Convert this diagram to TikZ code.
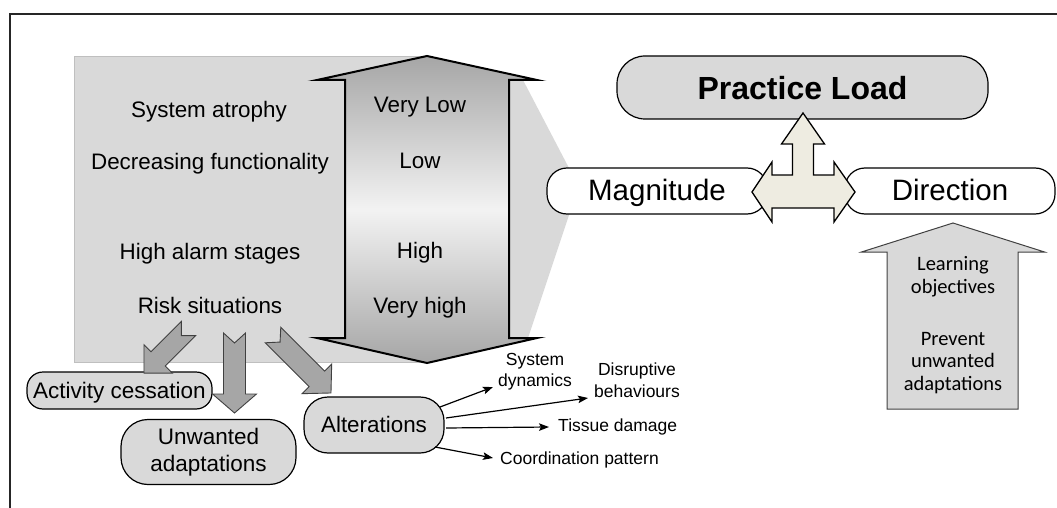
\documentclass[tikz,border=0pt]{standalone}
\usepackage{fontspec}
\setmainfont{Liberation Sans}
\newfontfamily\calibri{Carlito}
\usetikzlibrary{arrows.meta,calc}
\definecolor{lg}{HTML}{D9D9D9}
\definecolor{ag}{HTML}{A6A6A6}
\definecolor{beige}{HTML}{EEECE1}
\definecolor{edgec}{HTML}{404040}
\definecolor{frameg}{HTML}{BFBFBF}
\newcommand\fsz[1]{\fontsize{#1}{#1}\selectfont}
% #1 tail centre, #2 angle, #3 length, #4 shaft half width, #5 head half width, #6 head length
\newcommand\notchedarrow[6]{%
  \begin{scope}[shift={#1},rotate=#2]
    \path[garrow] (0,#4) -- ({#3-#6},#4) -- ({#3-#6},#5) -- (#3,0) -- ({#3-#6},-#5)
      -- ({#3-#6},-#4) -- (0,-#4) -- (10,0) -- cycle;
  \end{scope}}
\begin{document}
\begin{tikzpicture}[x=1pt,y=-1pt,
  rbox/.style={draw=black,line width=1.2pt,inner sep=0pt,rounded corners=#1},
  txt/.style={inner sep=0pt,anchor=base},
  garrow/.style={fill=ag,draw=edgec,line width=0.9pt,line join=miter},
  sarrow/.style={line width=1.2pt,-{Stealth[length=10pt,width=7.5pt,inset=2pt]}},
  lbl/.style={inner sep=0pt,font=\fontsize{17.5}{21.5}\selectfont,align=center},
  big/.style={font=\fsz{22.4}}
]
\useasboundingbox (0,0) rectangle (1057,508);
% frame
\draw[line width=1.3pt,black!85] (10,515) -- (10,14) -- (1065,14);
% grey background and funnel
\fill[lg] (427,80) -- (523,80) -- (570,170) -- (570,212) -- (528,338) -- (427,338) -- cycle;
\path[fill=lg,draw=frameg,line width=0.8pt] (74,56) rectangle (427,362);
% double arrow
\path[draw=black,line width=2pt,line join=miter,top color=ag,bottom color=ag,middle color=black!5]
  (427,56) -- (537,80) -- (509,80) -- (509,338) -- (537,338) -- (427,363)
  -- (317,338) -- (345,338) -- (345,80) -- (317,80) -- cycle;
% left column
\node[txt,big] (t1) at (209,118) {System atrophy};
\node[txt,big] (t2) at (210,169) {Decreasing functionality};
\node[txt,big] (t3) at (210,259) {High alarm stages};
\node[txt,big] (t4) at (210,313) {Risk situations};
% right column
\node[txt,big] (v1) at (420,113) {Very Low};
\node[txt,big] (v2) at (420,168) {Low};
\node[txt,big] (v3) at (420,258) {High};
\node[txt,big] (v4) at (420,313) {Very high};
% top right nodes
\node[rbox=28pt,fill=lg,minimum width=371pt,minimum height=63pt,text height=25pt,text depth=0pt,
      font=\fsz{32}\bfseries] (pl) at (802.5,87.5) {Practice Load};
\node[rbox=20pt,fill=white,minimum width=220pt,minimum height=46pt,text height=18pt,text depth=0pt,
      font=\fsz{29.5}] (mag) at (657,191) {Magnitude};
\node[rbox=20pt,fill=white,minimum width=210pt,minimum height=46pt,text height=18pt,text depth=0pt,
      font=\fsz{29.5}] (dir) at (950,191) {Direction};
% three way arrow
\path[fill=beige,draw=black,line width=1.3pt,line join=miter]
  (752,192) -- (772,162) -- (772,175) -- (792.5,175) -- (792.5,144) -- (781.5,144)
  -- (803,113) -- (824.5,144) -- (813.5,144) -- (813.5,175) -- (834,175) -- (834,162)
  -- (855,192) -- (834,222) -- (834,208) -- (772,208) -- (772,222) -- cycle;
% learning arrow
\path[fill=lg,draw=edgec,line width=1pt,line join=miter]
  (953,223) -- (1044.5,252) -- (1018,252) -- (1018,409) -- (887,409) -- (887,252)
  -- (861.5,252) -- cycle;
\node[txt,font=\calibri\fsz{20.5}] (l1) at (953,270) {Learning};
\node[txt,font=\calibri\fsz{20.5}] (l2) at (953,293) {objectives};
\node[txt,font=\calibri\fsz{20.5}] (l3) at (953,345) {Prevent};
\node[txt,font=\calibri\fsz{20.5}] (l4) at (953,367) {unwanted};
\node[txt,font=\calibri\fsz{20.5}] (l5) at (953,390) {adaptations};
% bottom nodes
\node[rbox=16pt,fill=lg,minimum width=185pt,minimum height=37pt,text height=15pt,text depth=0pt,
      font=\fsz{22.5}] (act) at (119.5,390.5) {Activity cessation};
\node[rbox=27pt,fill=lg,minimum width=175pt,minimum height=65pt,align=center,
      font=\fontsize{22.5}{27}\selectfont] (unw) at (208.5,452) {Unwanted\\adaptations};
\node[rbox=24pt,fill=lg,minimum width=140pt,minimum height=56pt,text height=14pt,text depth=0pt,
      font=\fsz{22.4}] (alt) at (374,425) {Alterations};
% grey notched arrows
\notchedarrow{(188.5,328.5)}{-135}{63}{10}{20}{20}
\notchedarrow{(234.5,333)}{-90}{80}{11}{22}{19}
\notchedarrow{(273,335)}{-45}{82}{11}{21}{20}
% labels of alterations
\node[lbl] (sd) at (535,371.5) {System\\dynamics};
\node[lbl] (db) at (637,380) {Disruptive\\behaviours};
\node[inner sep=0pt,anchor=base west,font=\fsz{17.5}] (tdm) at (558,431) {Tissue damage};
\node[inner sep=0pt,anchor=base west,font=\fsz{17.5}] (cpt) at (500,464) {Coordination pattern};
\coordinate (e1) at (493,387);
\coordinate (e2) at (588,398);
\coordinate (e3) at (549,427);
\coordinate (e4) at (493,458);
\draw[sarrow] ($(alt.center)+(66,-18)$) -- (e1);
\draw[sarrow] ($(alt.center)+(72,-7)$) -- (e2);
\draw[sarrow] ($(alt.center)+(72,3)$) -- (e3);
\draw[sarrow] ($(alt.center)+(61,22)$) -- (e4);
\end{tikzpicture}
\end{document}
